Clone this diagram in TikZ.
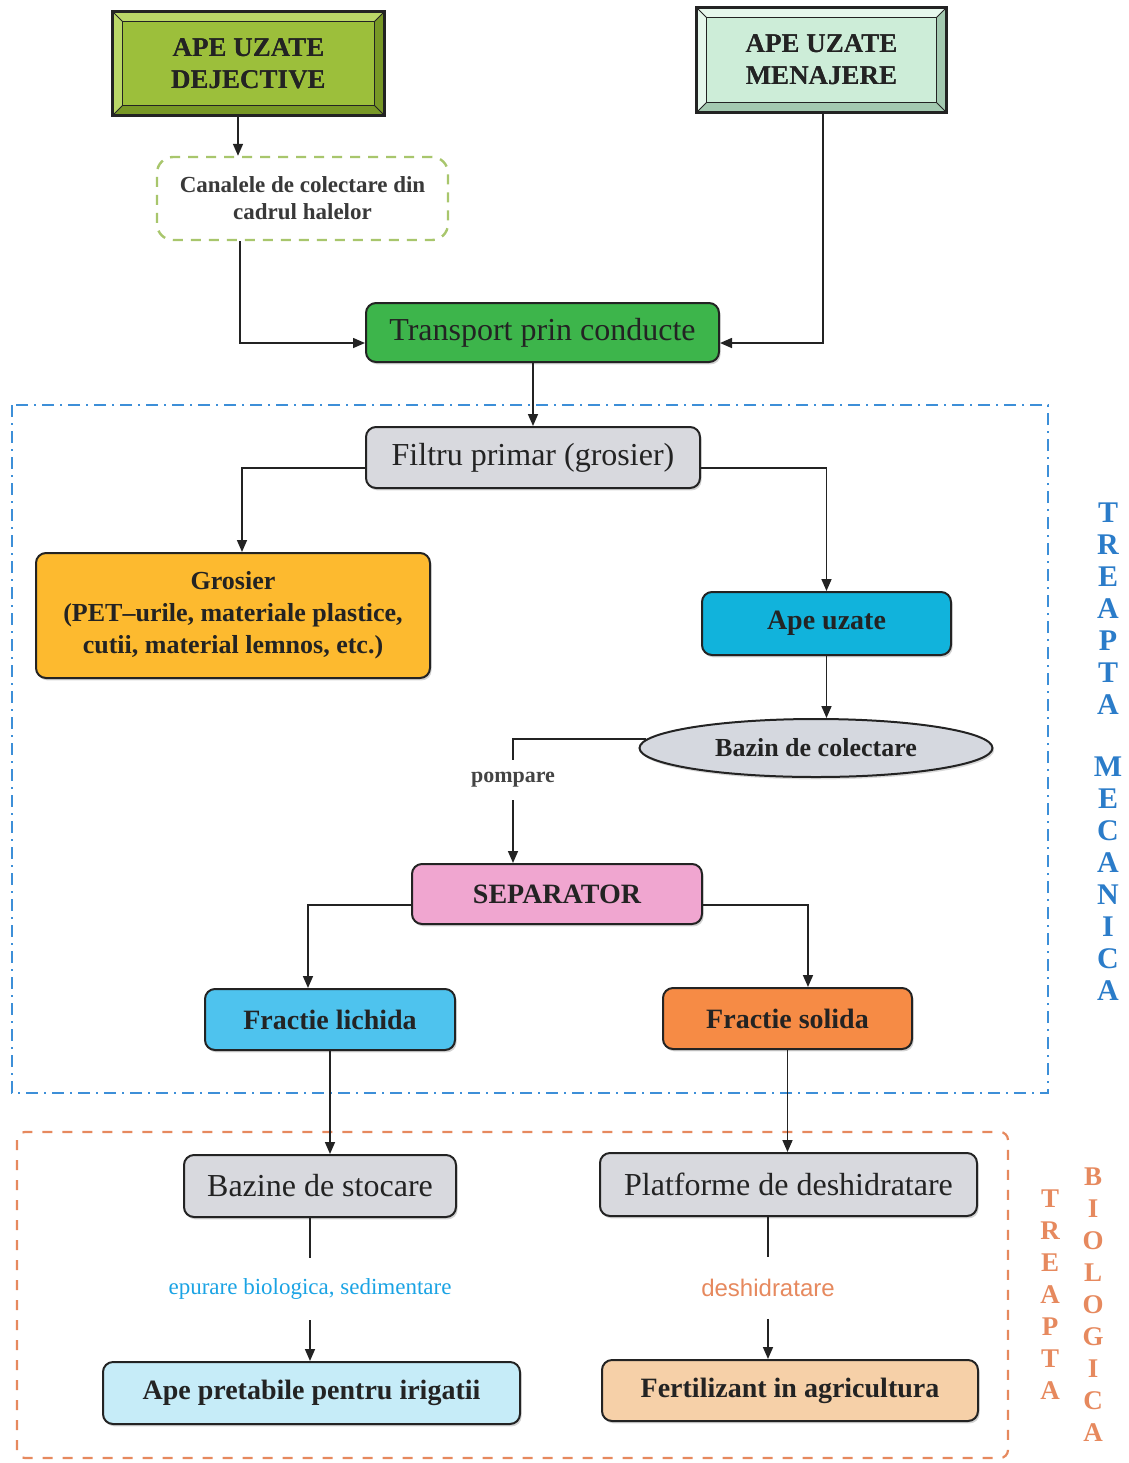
\documentclass[tikz,border=0pt]{standalone}
\usepackage{fontspec}
\setmainfont{Liberation Serif}
\newfontfamily\sansfam{Liberation Sans}
\usetikzlibrary{arrows.meta,shapes.geometric,shadows,calc}

\definecolor{ink}{HTML}{232323}
\definecolor{dejgreen}{HTML}{9CBF3B}
\definecolor{dejlight}{HTML}{BAD767}
\definecolor{dejdark}{HTML}{789826}
\definecolor{menface}{HTML}{CDEDD8}
\definecolor{menlight}{HTML}{E6F7EC}
\definecolor{mendark}{HTML}{A3C9B0}
\definecolor{canedge}{HTML}{A8C66C}
\definecolor{trgreen}{HTML}{3DB54B}
\definecolor{boxgray}{HTML}{D8D9DE}
\definecolor{grosorange}{HTML}{FDBA2F}
\definecolor{apecyan}{HTML}{11B3DC}
\definecolor{bazgray}{HTML}{D5D8DF}
\definecolor{seppink}{HTML}{F0A6D0}
\definecolor{liqblue}{HTML}{4EC3EE}
\definecolor{solorange}{HTML}{F68B45}
\definecolor{irgblue}{HTML}{C6ECF8}
\definecolor{ferpeach}{HTML}{F6D0A8}
\definecolor{mecblue}{HTML}{2B7CC9}
\definecolor{frameblue}{HTML}{3D8FD8}
\definecolor{bioorange}{HTML}{E6895E}
\definecolor{epublue}{HTML}{1AA3E4}

% bevelled frame drawn round an existing rectangular node
\newcommand\bevelframe[3]{%
  \fill[#2] (#1.north west) -- (#1.north east) -- ($(#1.north east)+(-10,10)$) -- ($(#1.north west)+(10,10)$) -- cycle;
  \fill[#2] (#1.north west) -- ($(#1.north west)+(10,10)$) -- ($(#1.south west)+(10,-10)$) -- (#1.south west) -- cycle;
  \fill[#3] (#1.north east) -- (#1.south east) -- ($(#1.south east)+(-10,-10)$) -- ($(#1.north east)+(-10,10)$) -- cycle;
  \fill[#3] (#1.south west) -- ($(#1.south west)+(10,-10)$) -- ($(#1.south east)+(-10,-10)$) -- (#1.south east) -- cycle;
  \draw[ink, line width=.5pt] ($(#1.north west)+(10,10)$) rectangle ($(#1.south east)+(-10,-10)$);
  \draw[ink, line width=.5pt] (#1.north west) -- ($(#1.north west)+(10,10)$)
                              (#1.north east) -- ($(#1.north east)+(-10,10)$)
                              (#1.south west) -- ($(#1.south west)+(10,-10)$)
                              (#1.south east) -- ($(#1.south east)+(-10,-10)$);
  \draw[ink, line width=1.3pt] (#1.north west) rectangle (#1.south east);
}

\tikzset{
  x=0.5pt, y=-0.5pt,
  bevelnode/.style={rectangle, inner sep=0pt, align=center, text=ink,
    font=\fontsize{13.5}{16}\selectfont\bfseries},
  procbox/.style={rectangle, rounded corners=5pt, draw=ink, line width=1pt,
    inner sep=0pt, align=center, text=ink,
    drop shadow={shadow xshift=.8pt, shadow yshift=-1.2pt, opacity=.35}},
  plainfont/.style={font=\fontsize{16}{18}\selectfont},
  boldfont/.style={font=\fontsize{14}{16}\selectfont\bfseries},
  conn/.style={ink, line width=.8pt},
  arr/.style={conn, -{Triangle[length=6pt, width=5pt]}},
  sidelbl/.style={inner sep=0pt, align=center},
}

\begin{document}
\begin{tikzpicture}
\useasboundingbox (0,0) rectangle (1129,1463);

% stage frames
\draw[frameblue, line width=1.2pt, dash pattern=on 6pt off 3pt on 1pt off 3pt]
  (12,405) rectangle (1048,1093);
\draw[bioorange, line width=1.1pt, dash pattern=on 5pt off 5pt, rounded corners=4pt]
  (17,1132) rectangle (1008,1458);

% sources
\node[bevelnode, fill=dejgreen, minimum width=135.5pt, minimum height=51.5pt]
  (dej) at (248.5,63.5) {APE UZATE\\DEJECTIVE};
\bevelframe{dej}{dejlight}{dejdark}
\node[bevelnode] at (dej) {APE UZATE\\DEJECTIVE};

\node[bevelnode, fill=menface, minimum width=124.5pt, minimum height=52pt]
  (men) at (821.5,60) {APE UZATE\\MENAJERE};
\bevelframe{men}{menlight}{mendark}
\node[bevelnode] at (men) {APE UZATE\\MENAJERE};

\node[rectangle, rounded corners=8pt, draw=canedge, line width=1.2pt,
  dash pattern=on 5pt off 4pt, fill=white, inner sep=0pt, align=center,
  text=ink!90, font=\fontsize{11.5}{13.5}\selectfont\bfseries,
  minimum width=145.5pt, minimum height=41.5pt]
  (can) at (302.5,198.5) {Canalele de colectare din\\cadrul halelor};

% processing chain
\node[procbox, plainfont, fill=trgreen, minimum width=176.5pt, minimum height=29.5pt]
  (tra) at (542.5,332.5) {Transport prin conducte};
\node[procbox, plainfont, fill=boxgray, minimum width=167pt, minimum height=30.5pt]
  (fil) at (533,457.5) {Filtru primar (grosier)};
\node[procbox, fill=grosorange, font=\fontsize{13}{16}\selectfont\bfseries,
  minimum width=197pt, minimum height=62.5pt]
  (gro) at (233,615.5) {Grosier\\(PET–urile, materiale plastice,\\cutii, material lemnos, etc.)};
\node[procbox, boldfont, fill=apecyan, minimum width=124.5pt, minimum height=31.5pt]
  (apu) at (826.5,623.5) {Ape uzate};
\node[ellipse, draw=ink, line width=1pt, fill=bazgray, inner sep=0pt,
  font=\fontsize{13}{15}\selectfont\bfseries, text=ink,
  minimum width=176.5pt, minimum height=29pt,
  drop shadow={shadow xshift=.8pt, shadow yshift=-1.2pt, opacity=.3}]
  (baz) at (816,748) {Bazin de colectare};
\node[inner sep=0pt, minimum height=20pt, text=ink!85,
  font=\fontsize{11}{13}\selectfont\bfseries]
  (pomp) at (513,780) {pompare};
\node[procbox, boldfont, fill=seppink, minimum width=145pt, minimum height=30pt]
  (sep) at (557,894) {SEPARATOR};
\node[procbox, boldfont, fill=liqblue, minimum width=125pt, minimum height=30.5pt]
  (liq) at (330,1019.5) {Fractie lichida};
\node[procbox, boldfont, fill=solorange, minimum width=124.5pt, minimum height=30.5pt]
  (sol) at (787.5,1018.5) {Fractie solida};

% biological stage
\node[procbox, plainfont, fill=boxgray, minimum width=136pt, minimum height=31pt]
  (sto) at (320,1186) {Bazine de stocare};
\node[procbox, plainfont, fill=boxgray, minimum width=188.5pt, minimum height=31.5pt]
  (pla) at (788.5,1184.5) {Platforme de deshidratare};
\node[inner sep=0pt, minimum height=31pt, text=epublue,
  font=\fontsize{11.5}{13}\selectfont]
  (epu) at (310,1289) {epurare biologica, sedimentare};
\node[inner sep=0pt, minimum height=30.5pt, text=bioorange,
  font=\sansfam\fontsize{12}{14}\selectfont]
  (desh) at (768,1288) {deshidratare};
\node[procbox, boldfont, fill=irgblue, minimum width=208.5pt, minimum height=31pt]
  (irg) at (311.5,1393) {Ape pretabile pentru irigatii};
\node[procbox, boldfont, fill=ferpeach, minimum width=188pt, minimum height=30.5pt]
  (fer) at (790,1390.5) {Fertilizant in agricultura};

% bend and drop positions of the connectors
\coordinate (xdej) at (238,0);
\coordinate (xcan) at (240,0);
\coordinate (xmen) at (823,0);
\coordinate (ytra) at (0,343);
\coordinate (yfil) at (0,468);
\coordinate (xgro) at (242,0);
\coordinate (ysep) at (0,905);
\coordinate (xliq) at (308,0);
\coordinate (xsol) at (808,0);

% connectors
\draw[arr] (dej.south -| xdej) -- (can.north -| xdej);
\draw[arr] (can.south -| xcan) |- (tra.west |- ytra);
\draw[arr] (men.south -| xmen) |- (tra.east |- ytra);
\draw[arr] (tra.south -| fil.north) -- (fil.north);
\draw[arr] (fil.west |- yfil) -| (gro.north -| xgro);
\draw[arr] (fil.east |- yfil) -| (apu.north);
\draw[arr] (apu.south) -- (apu.south |- baz.north);
\draw[conn] (baz.177) -| (pomp.north);
\draw[arr] (pomp.south) -- (pomp.south |- sep.north);
\draw[arr] (sep.west |- ysep) -| (liq.north -| xliq);
\draw[arr] (sep.east |- ysep) -| (sol.north -| xsol);
\draw[arr] (liq.south) -- (liq.south |- sto.north);
\draw[arr] (sol.south) -- (sol.south |- pla.north);
\draw[conn] (sto.south -| epu.north) -- (epu.north);
\draw[arr] (epu.south) -- (epu.south |- irg.north);
\draw[conn] (pla.south -| desh.north) -- (desh.north);
\draw[arr] (desh.south) -- (desh.south |- fer.north);

% stage captions
\node[sidelbl, anchor=north, text=mecblue, font=\fontsize{15}{16}\selectfont\bfseries]
  (mec) at (1108,502) {T\\R\\E\\A\\P\\T\\A\\[15pt]M\\E\\C\\A\\N\\I\\C\\A};
\node[sidelbl, anchor=north, text=bioorange, font=\fontsize{13.5}{16}\selectfont\bfseries]
  (trb) at (1050,1189) {T\\R\\E\\A\\P\\T\\A};
\node[sidelbl, anchor=north, text=bioorange, font=\fontsize{13.5}{16}\selectfont\bfseries]
  (bio) at (1093,1167) {B\\I\\O\\L\\O\\G\\I\\C\\A};
\end{tikzpicture}
\end{document}
